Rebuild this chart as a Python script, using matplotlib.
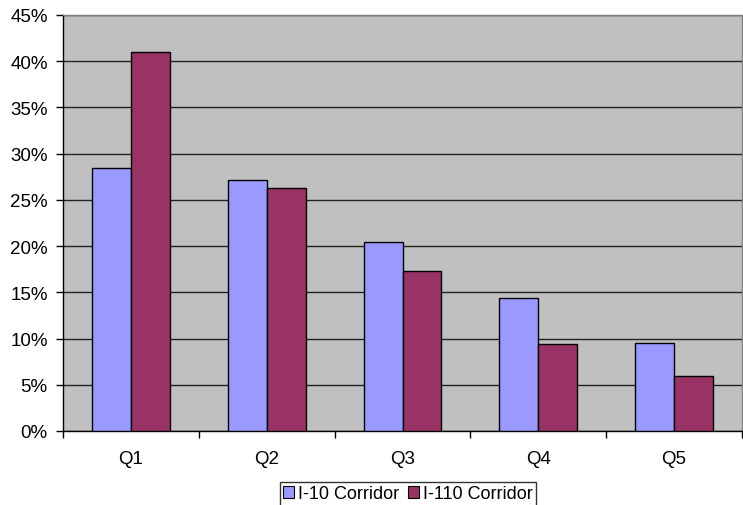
import numpy as np
import matplotlib.pyplot as plt
from matplotlib.patches import Patch
from matplotlib.ticker import PercentFormatter

plt.rcParams['font.family'] = ['Liberation Sans', 'DejaVu Sans']

quintiles = ['Q1', 'Q2', 'Q3', 'Q4', 'Q5']
i10 = [28.4, 27.2, 20.4, 14.4, 9.5]
i110 = [41.0, 26.3, 17.3, 9.4, 5.9]
series_names = ['I-10 Corridor', 'I-110 Corridor']
colors = ['#9999FF', '#993366']


def main():
    fig = plt.figure(figsize=(7.43, 5.06), dpi=100)
    ax = fig.add_axes([63 / 743, 1 - 432 / 506, 679 / 743, 416 / 506])

    x = np.arange(len(quintiles))
    w = 0.287
    ax.bar(x - w / 2, i10, w, color=colors[0], edgecolor='black',
           linewidth=1.0, zorder=3)
    ax.bar(x + w / 2, i110, w, color=colors[1], edgecolor='black',
           linewidth=1.0, zorder=3)

    ax.set_facecolor('#C0C0C0')
    ax.set_xlim(-0.5, len(quintiles) - 0.5)
    ax.set_ylim(0, 45)
    ax.set_yticks(np.arange(0, 46, 5))
    ax.yaxis.set_major_formatter(PercentFormatter(decimals=0))
    ax.yaxis.grid(True, color='#222222', linewidth=1.0, zorder=1)

    # category labels between boundary ticks
    ax.set_xticks(x)
    ax.set_xticklabels(quintiles)
    ax.tick_params(axis='x', length=0, pad=14, labelsize=13.5)
    ax.set_xticks(np.arange(-0.5, len(quintiles)), minor=True)
    ax.tick_params(axis='x', which='minor', length=5, width=1.0,
                   direction='out')
    ax.tick_params(axis='y', length=5, width=1.0, direction='out',
                   labelsize=13.5, pad=6)

    for side in ['top', 'right']:
        ax.spines[side].set_color('#808080')
        ax.spines[side].set_linewidth(1.0)
    for side in ['left', 'bottom']:
        ax.spines[side].set_color('black')
        ax.spines[side].set_linewidth(1.0)

    handles = [Patch(facecolor=c, edgecolor='black', linewidth=0.8)
               for c in colors]
    leg = fig.legend(handles, series_names, loc='center',
                     bbox_to_anchor=(408 / 743, 1 - 495 / 506), ncol=2,
                     frameon=True, fancybox=False, fontsize=13,
                     handlelength=0.6, handleheight=0.6, handletextpad=0.25,
                     columnspacing=0.45, borderpad=0.2, borderaxespad=0)
    leg.get_frame().set_edgecolor('black')
    leg.get_frame().set_linewidth(1.0)

    fig.savefig('out.png', dpi=100)


if __name__ == "__main__":
    main()
